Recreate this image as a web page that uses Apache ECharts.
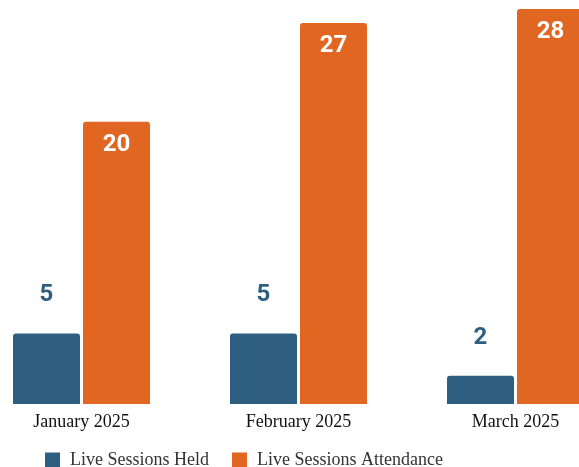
<!DOCTYPE html>
<html>
<head>
<meta charset="utf-8">
<script src="https://cdn.jsdelivr.net/npm/echarts@6/dist/echarts.min.js"></script>
<style>
  html, body { margin: 0; padding: 0; background: #fff; overflow: hidden; }
  #wrap { width: 579px; height: 467px; overflow: hidden; position: relative; }
  #chart { width: 651px; height: 467px; position: absolute; left: -27px; top: 0; }
</style>
</head>
<body>
<div id="wrap"><div id="chart"></div></div>
<script>
var months = ['January 2025', 'February 2025', 'March 2025']
var held = [5, 5, 2]
var attendance = [20, 27, 28]

var blue = '#2e5f80'
var orange = '#e06622'

var myChart = echarts.init(document.getElementById('chart'))
var option = {
  animation: false,
  grid: { left: 0, right: 0, top: 9, bottom: 63 },
  legend: {
    left: 67,
    top: 446,
    itemWidth: 15,
    itemHeight: 15,
    itemGap: 23,
    icon: 'rect',
    textStyle: { fontFamily: 'Liberation Serif', fontSize: 18, color: '#333', padding: [0, 0, 0, 5] },
    data: ['Live Sessions Held', 'Live Sessions Attendance']
  },
  xAxis: {
    type: 'category',
    data: months,
    axisLine: { show: false },
    axisTick: { show: false },
    axisLabel: { fontFamily: 'Liberation Serif', fontSize: 18, color: '#111', margin: 9 }
  },
  yAxis: {
    type: 'value',
    min: 0,
    max: 28,
    show: false,
    splitLine: { show: false }
  },
  series: [
    {
      name: 'Live Sessions Held',
      type: 'bar',
      data: held,
      barWidth: 67,
      barGap: '4.5%',
      itemStyle: { color: blue, borderRadius: [3, 3, 0, 0] },
      label: {
        show: true,
        position: 'top',
        distance: 26,
        color: blue,
        fontFamily: 'Roboto',
        fontWeight: 'bold',
        fontSize: 24
      }
    },
    {
      name: 'Live Sessions Attendance',
      type: 'bar',
      data: attendance,
      barWidth: 67,
      itemStyle: { color: orange, borderRadius: [3, 3, 0, 0] },
      label: {
        show: true,
        position: 'insideTop',
        distance: 11,
        color: '#fff',
        fontFamily: 'Roboto',
        fontWeight: 'bold',
        fontSize: 24
      }
    }
  ]
}
myChart.setOption(option)
</script>
</body>
</html>
